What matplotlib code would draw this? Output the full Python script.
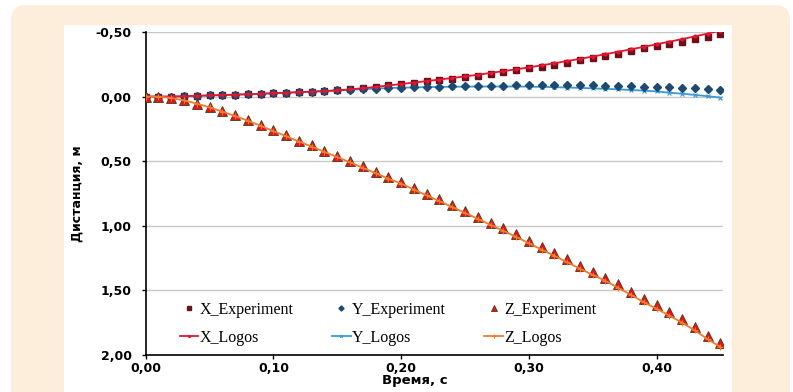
import matplotlib
matplotlib.use("Agg")
import matplotlib.pyplot as plt
from matplotlib.patches import FancyBboxPatch, Rectangle
from matplotlib.transforms import IdentityTransform

# time, s
t = [0.00, 0.01, 0.02, 0.03, 0.04, 0.05, 0.06, 0.07, 0.08, 0.09,
     0.10, 0.11, 0.12, 0.13, 0.14, 0.15, 0.16, 0.17, 0.18, 0.19,
     0.20, 0.21, 0.22, 0.23, 0.24, 0.25, 0.26, 0.27, 0.28, 0.29,
     0.30, 0.31, 0.32, 0.33, 0.34, 0.35, 0.36, 0.37, 0.38, 0.39,
     0.40, 0.41, 0.42, 0.43, 0.44, 0.45]

x_exp = [0.000, 0.000, 0.000, -0.003, -0.006, -0.009, -0.012, -0.015, -0.018, -0.022,
         -0.026, -0.030, -0.034, -0.038, -0.043, -0.048, -0.056, -0.065, -0.075, -0.086,
         -0.096, -0.107, -0.118, -0.129, -0.140, -0.151, -0.163, -0.176, -0.190, -0.204,
         -0.218, -0.232, -0.247, -0.262, -0.280, -0.298, -0.315, -0.333, -0.353, -0.373,
         -0.391, -0.409, -0.426, -0.443, -0.462, -0.484]
y_exp = [0.000, 0.000, 0.000, -0.003, -0.006, -0.009, -0.012, -0.015, -0.018, -0.022,
         -0.026, -0.030, -0.034, -0.038, -0.043, -0.048, -0.053, -0.058, -0.062, -0.066,
         -0.069, -0.072, -0.075, -0.077, -0.079, -0.081, -0.083, -0.084, -0.085, -0.086,
         -0.087, -0.088, -0.088, -0.088, -0.087, -0.086, -0.085, -0.083, -0.081, -0.078,
         -0.075, -0.071, -0.067, -0.063, -0.058, -0.053]
z_exp = [0.000, 0.000, 0.008, 0.028, 0.054, 0.082, 0.114, 0.146, 0.180, 0.220,
         0.260, 0.300, 0.340, 0.378, 0.420, 0.458, 0.498, 0.540, 0.580, 0.625,
         0.662, 0.708, 0.752, 0.795, 0.840, 0.885, 0.930, 0.977, 1.020, 1.067,
         1.116, 1.167, 1.210, 1.260, 1.310, 1.357, 1.402, 1.454, 1.510, 1.568,
         1.615, 1.667, 1.720, 1.780, 1.850, 1.906]

x_log = [0.000, 0.000, 0.000, -0.003, -0.006, -0.009, -0.012, -0.015, -0.018, -0.022,
         -0.026, -0.030, -0.034, -0.038, -0.043, -0.048, -0.056, -0.065, -0.075, -0.086,
         -0.097, -0.108, -0.120, -0.132, -0.144, -0.156, -0.169, -0.183, -0.197, -0.211,
         -0.226, -0.242, -0.258, -0.275, -0.292, -0.310, -0.328, -0.347, -0.366, -0.385,
         -0.405, -0.425, -0.445, -0.466, -0.488, -0.510]
y_log = [0.000, 0.000, 0.000, -0.003, -0.006, -0.009, -0.012, -0.015, -0.018, -0.022,
         -0.026, -0.030, -0.034, -0.038, -0.043, -0.048, -0.053, -0.058, -0.062, -0.066,
         -0.069, -0.071, -0.073, -0.075, -0.076, -0.077, -0.078, -0.078, -0.078, -0.078,
         -0.077, -0.075, -0.073, -0.070, -0.067, -0.064, -0.060, -0.056, -0.051, -0.046,
         -0.040, -0.030, -0.022, -0.013, -0.003, 0.008]
z_log = [0.000, 0.001, 0.010, 0.029, 0.054, 0.084, 0.116, 0.151, 0.187, 0.226,
         0.267, 0.307, 0.348, 0.387, 0.428, 0.468, 0.509, 0.551, 0.592, 0.636,
         0.673, 0.720, 0.765, 0.809, 0.855, 0.900, 0.946, 0.993, 1.039, 1.086,
         1.135, 1.185, 1.232, 1.282, 1.332, 1.380, 1.427, 1.480, 1.535, 1.592,
         1.642, 1.695, 1.750, 1.810, 1.878, 1.938]

y_ticks = [-0.5, 0.0, 0.5, 1.0, 1.5, 2.0]
x_ticks = [0.0, 0.1, 0.2, 0.3, 0.4]


def comma(v):
    return f"{v:.2f}".replace(".", ",")


fig = plt.figure(figsize=(7.93, 3.92), dpi=100)
fig.patch.set_facecolor("white")

# page decoration: beige rounded card and white chart panel
card = FancyBboxPatch((11, -30), 779, 417, boxstyle="round,pad=0,rounding_size=15",
                      transform=IdentityTransform(), facecolor="#fdeedc",
                      edgecolor="none", zorder=-20)
panel = Rectangle((64, -5), 668, 372, transform=IdentityTransform(),
                  facecolor="white", edgecolor="none", zorder=-10)
fig.patches.extend([card, panel])

ax = fig.add_axes([0.1837, 0.0944, 0.728, 0.824])
ax.set_facecolor("none")

ax.plot(t, x_exp, ls="none", marker="s", ms=5, color="#6e0f1a", label="X_Experiment", zorder=3)
ax.plot(t, y_exp, ls="none", marker="D", ms=4, color="#1d4a72", label="Y_Experiment", zorder=3)
ax.plot(t, z_exp, ls="none", marker="^", ms=6.5, color="#e3141b", mec="#4d3a12", mew=0.6,
        label="Z_Experiment", zorder=3)
ax.plot(t, x_log, color="#e3162d", lw=1.3, marker="o", ms=2, label="X_Logos", zorder=4)
ax.plot(t, y_log, color="#3a98d4", lw=1.3, marker="x", ms=3, mew=0.8, label="Y_Logos", zorder=2)
ax.plot(t, z_log, color="#f57a2e", lw=1.3, marker="+", ms=4, mew=0.8, label="Z_Logos", zorder=4)

ax.set_xlim(0, 0.452)
ax.set_ylim(2.0, -0.5)
ax.set_yticks(y_ticks)
ax.set_yticklabels([comma(v) for v in y_ticks], fontsize=9, fontweight="bold")
ax.set_xticks(x_ticks)
ax.set_xticklabels([comma(v) for v in x_ticks], fontsize=9, fontweight="bold")
ax.tick_params(axis="y", length=3, width=1, pad=7)
ax.tick_params(axis="x", length=3, width=1, pad=2)

ax.grid(axis="y", color="#c8c8c8", lw=1)
ax.set_axisbelow(True)
for side in ["top", "right"]:
    ax.spines[side].set_visible(False)
for side in ["left", "bottom"]:
    ax.spines[side].set_color("black")
    ax.spines[side].set_linewidth(1.2)

ax.set_ylabel("Дистанция, м", fontsize=9, fontweight="bold")
ax.yaxis.set_label_coords(-0.108, 0.5)
ax.set_xlabel("Время, с", fontsize=9.5, fontweight="bold")
ax.xaxis.set_label_coords(0.466, -0.058)

handles, labels = ax.get_legend_handles_labels()
order = [0, 3, 1, 4, 2, 5]
leg = ax.legend([handles[i] for i in order], [labels[i] for i in order], ncol=3,
                loc="upper left", bbox_to_anchor=(172 / 793, (392 - 294) / 392),
                bbox_transform=fig.transFigure, frameon=False, borderpad=0,
                handlelength=1.15, handletextpad=0.1, columnspacing=2.4,
                labelspacing=0.75, markerscale=0.65,
                prop={"family": "Liberation Serif", "size": 11.5})

fig.savefig("out.png", dpi=100)
